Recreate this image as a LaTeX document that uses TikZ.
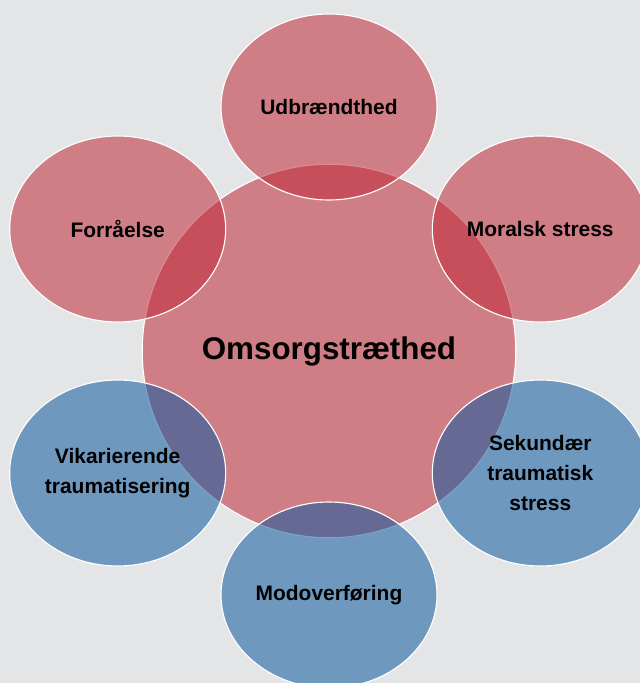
\documentclass[tikz,border=0pt]{standalone}
\usepackage{fontspec}
\setmainfont{Liberation Sans}
\usetikzlibrary{shapes.geometric}

\definecolor{bggray}{RGB}{227,229,231}
\definecolor{redfill}{RGB}{192,42,56}
\definecolor{bluefill}{RGB}{14,89,158}

\begin{document}
\begin{tikzpicture}[
		hub/.style={circle, draw=white, line width=0.8pt, fill=redfill, fill opacity=0.55, text opacity=1, minimum size=9.34cm, align=center, font=\bfseries\fontsize{22.3}{26}\selectfont},
		leaf/.style={ellipse, draw=white, line width=0.8pt, fill opacity=0.55, text opacity=1, minimum width=5.4cm, minimum height=4.65cm, inner sep=0pt, align=center, font=\bfseries\fontsize{14.9}{21.3}\selectfont},
		warm/.style={leaf, fill=redfill},
		cold/.style={leaf, fill=bluefill}
	]
	\clip (-8.225,-8.3) rectangle (7.775,8.775);
	\fill[bggray] (-8.225,-8.3) rectangle (7.775,8.775);

	\node[hub] (omsorg) at (0,0) {Omsorgstræthed};

	\node[warm] (udbraendt) at (90:6.1) {Udbrændthed};
	\node[warm] (moralsk) at (30:6.1) {Moralsk stress};
	\node[warm] (forraaelse) at (150:6.1) {Forråelse};
	\node[cold] (sekundaer) at (-30:6.1) {Sekundær\\traumatisk\\stress};
	\node[cold] (vikarierende) at (-150:6.1) {Vikarierende\\traumatisering};
	\node[cold] (modoverf) at (-90:6.1) {Modoverføring};
\end{tikzpicture}
\end{document}
